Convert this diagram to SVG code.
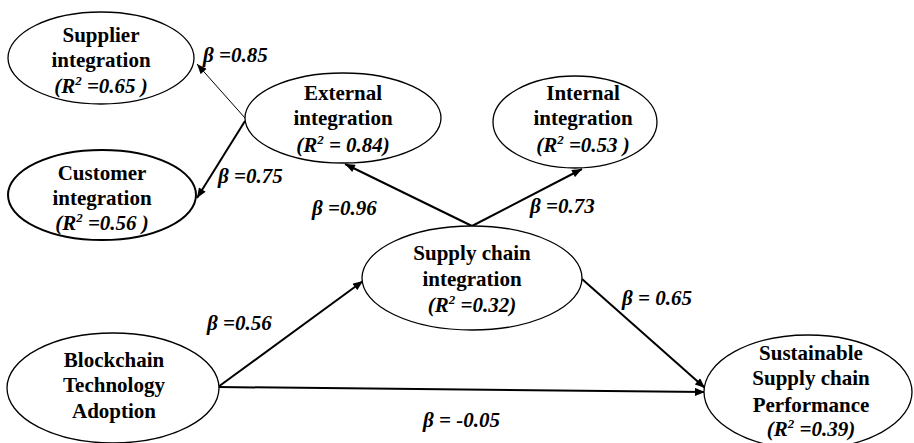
<svg xmlns="http://www.w3.org/2000/svg" width="914" height="443" viewBox="0 0 914 443">
<style>
.node ellipse{fill:#fff;stroke:#000;stroke-width:1.3}
.t{font-family:"Liberation Serif","Times New Roman",serif;font-weight:bold;font-size:21px;text-anchor:middle;fill:#000}
.r{font-style:italic}
.b{font-family:"Liberation Serif","Times New Roman",serif;font-weight:bold;font-style:italic;font-size:21px;fill:#000}
.c line{stroke:#000;stroke-width:2;marker-end:url(#ah)}
.c line.thin{stroke-width:1}
</style>
<defs>
<marker id="ah" viewBox="0 0 10 8" refX="10" refY="4" markerWidth="11" markerHeight="8" markerUnits="userSpaceOnUse" orient="auto"><path d="M0,0 L10,4 L0,8 z" fill="#000"/></marker>
</defs>
<g id="connectors" class="c">
<line class="thin" x1="245" y1="118" x2="197" y2="64"/>
<line x1="245" y1="121" x2="197" y2="198"/>
<line x1="472" y1="226" x2="345" y2="164"/>
<line x1="472" y1="226" x2="582" y2="169"/>
<line x1="218" y1="387" x2="363" y2="281"/>
<line x1="218" y1="387" x2="705" y2="392"/>
<line x1="582" y1="279" x2="705" y2="388"/>
</g>
<g id="supplier" class="node">
<ellipse cx="101" cy="58" rx="93" ry="46"/>
<text class="t" x="101" y="42">Supplier</text>
<text class="t" x="101" y="67">integration</text>
<text class="t r" x="101" y="93">(R<tspan font-size="13" dy="-8">2</tspan><tspan dy="8"> =0.65 )</tspan></text>
</g>
<g id="customer" class="node">
<ellipse cx="102" cy="195" rx="94" ry="45" style="stroke-width:2"/>
<text class="t" x="102" y="180">Customer</text>
<text class="t" x="102" y="205">integration</text>
<text class="t r" x="102" y="230">(R<tspan font-size="13" dy="-8">2</tspan><tspan dy="8"> =0.56 )</tspan></text>
</g>
<g id="external" class="node">
<ellipse cx="343" cy="118" rx="98" ry="45"/>
<text class="t" x="343" y="100">External</text>
<text class="t" x="343" y="125">integration</text>
<text class="t r" x="343" y="152">(R<tspan font-size="13" dy="-8">2</tspan><tspan dy="8"> = 0.84)</tspan></text>
</g>
<g id="internal" class="node">
<ellipse cx="575" cy="122" rx="82" ry="46"/>
<text class="t" x="583" y="100">Internal</text>
<text class="t" x="583" y="125">integration</text>
<text class="t r" x="583" y="152">(R<tspan font-size="13" dy="-8">2</tspan><tspan dy="8"> =0.53 )</tspan></text>
</g>
<g id="scintegration" class="node">
<ellipse cx="472" cy="278" rx="110" ry="52"/>
<text class="t" x="472" y="260">Supply chain</text>
<text class="t" x="472" y="286">integration</text>
<text class="t r" x="472" y="312">(R<tspan font-size="13" dy="-8">2</tspan><tspan dy="8"> =0.32)</tspan></text>
</g>
<g id="blockchain" class="node">
<ellipse cx="113" cy="388" rx="106" ry="55"/>
<text class="t" x="114" y="367">Blockchain</text>
<text class="t" x="114" y="392">Technology</text>
<text class="t" x="114" y="418">Adoption</text>
</g>
<g id="sustainable" class="node">
<ellipse cx="808" cy="392" rx="104" ry="57"/>
<text class="t" x="811" y="360">Sustainable</text>
<text class="t" x="811" y="385">Supply chain</text>
<text class="t" x="811" y="412">Performance</text>
<text class="t r" x="811" y="436">(R<tspan font-size="13" dy="-8">2</tspan><tspan dy="8"> =0.39)</tspan></text>
</g>
<g id="labels">
<text class="b" x="203" y="62">β =0.85</text>
<text class="b" x="218" y="183">β =0.75</text>
<text class="b" x="312" y="215">β =0.96</text>
<text class="b" x="530" y="213">β =0.73</text>
<text class="b" x="622" y="305">β = 0.65</text>
<text class="b" x="207" y="330">β =0.56</text>
<text class="b" x="423" y="427">β = -0.05</text>
</g>
</svg>
